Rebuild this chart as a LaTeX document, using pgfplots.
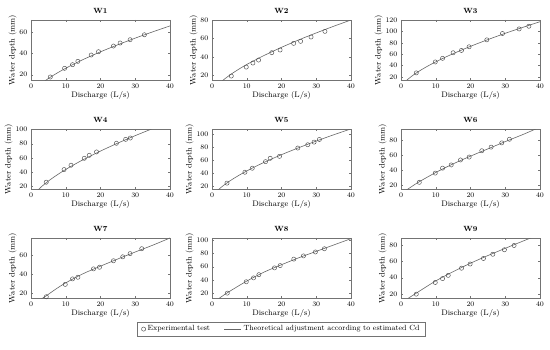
\documentclass[border=0pt]{standalone}
\usepackage{pgfplots}
\pgfplotsset{compat=1.18}
\pgfplotsset{
  panel/.style={
    scale only axis, width=139pt, height=60pt, anchor=south west,
    xmin=0, xmax=40, xtick={0,10,20,30,40},
    xlabel={Discharge (L/s)}, ylabel={Water depth (mm)},
    tick label style={font=\fontsize{7.5}{8}\selectfont},
    label style={font=\fontsize{8}{9}\selectfont},
    title style={font=\bfseries\fontsize{7.5}{8}\selectfont, yshift=-3pt},
    xlabel style={yshift=3pt},
    ylabel style={yshift=-4pt},
    axis line style={black!55},
    tick style={black!55},
    tick align=inside, major tick length=2pt,
    clip=true,
  },
  dat/.style={only marks, mark=o, mark size=2.1pt, mark options={black!70, line width=0.45pt}},
  fit/.style={no marks, smooth, black!60, line width=0.6pt},
}
\begin{document}
\begin{tikzpicture}
\useasboundingbox (0pt,0pt) rectangle (550pt,349pt);
% W1
\begin{axis}[panel, at={(31pt,269pt)}, title={W1}, ymin=15, ymax=71, ytick={20,40,60}]
\addplot[dat] coordinates {(5.55,17.8)(9.67,25.9)(11.96,29.3)(13.49,32.4)(17.32,38.3)(19.43,41.4)(23.73,46.7)(25.65,49.5)(28.52,52.6)(32.63,57.2)};
\addplot[fit] coordinates {(4,14.1)(5,16.4)(6,18.5)(8,22.4)(10,26.0)(12,29.3)(15,34.1)(20,41.3)(25,47.9)(30,54.1)(35,59.9)(40,65.5)};
\end{axis}
% W2
\begin{axis}[panel, at={(212pt,269pt)}, title={W2}, ymin=15, ymax=80, ytick={20,40,60,80}]
\addplot[dat] coordinates {(5.55,19.3)(9.86,29.0)(11.77,33.4)(13.4,36.6)(17.2,44.6)(19.6,47.5)(23.5,54.7)(25.5,56.9)(28.5,61.6)(32.5,67.7)};
\addplot[fit] coordinates {(3,14.2)(4,17.2)(5,20.0)(6,22.6)(8,27.4)(10,31.8)(12,35.8)(15,41.6)(20,50.4)(25,58.5)(30,66.0)(35,73.2)(40,80.0)};
\end{axis}
% W3
\begin{axis}[panel, at={(401pt,269pt)}, title={W3}, ymin=14.5, ymax=120, ytick={20,40,60,80,100,120}]
\addplot[dat] coordinates {(4.4,27.0)(9.86,46.2)(11.96,52.6)(15.0,62.4)(17.4,66.5)(19.6,72.9)(24.7,85.1)(29.2,96.2)(34.0,104.3)(36.8,109.0)};
\addplot[fit] coordinates {(1.5,13.1)(2,15.9)(3,20.8)(4,25.2)(5,29.2)(6,33.0)(8,40.0)(10,46.4)(12,52.4)(15,60.8)(20,73.7)(25,85.5)(30,96.6)(35,107.0)(40,117.0)};
\end{axis}
% W4
\begin{axis}[panel, at={(31pt,160pt)}, title={W4}, ymin=16.5, ymax=100.5, ytick={20,40,60,80,100}]
\addplot[dat] coordinates {(4.38,26.0)(9.52,43.7)(11.52,49.8)(15.33,59.5)(16.76,63.7)(18.86,68.4)(24.57,80.5)(27.24,86.0)(28.57,87.9)};
\addplot[fit] coordinates {(2,15.0)(3,19.7)(4,23.8)(5,27.6)(6,31.2)(8,37.8)(10,43.9)(12,49.5)(15,57.5)(20,69.6)(25,80.8)(30,91.2)(35,101.1)(36,103)};
\end{axis}
% W5
\begin{axis}[panel, at={(212pt,160pt)}, title={W5}, ymin=15, ymax=108, ytick={20,40,60,80,100}]
\addplot[dat] coordinates {(4.31,24.1)(9.47,41.0)(11.58,47.2)(15.41,57.4)(16.75,62.6)(19.43,65.6)(24.69,78.5)(27.56,83.6)(29.38,87.7)(30.91,91.8)};
\addplot[fit] coordinates {(1.5,12.1)(2,14.7)(3,19.2)(4,23.3)(5,27.0)(6,30.5)(8,37.0)(10,42.9)(12,48.5)(15,56.3)(20,68.2)(25,79.1)(30,89.3)(35,99.0)(40,108.2)};
\end{axis}
% W6
\begin{axis}[panel, at={(401pt,160pt)}, title={W6}, ymin=15, ymax=95, ytick={20,40,60,80}]
\addplot[dat] coordinates {(5.26,23.9)(9.86,36.2)(11.96,42.8)(14.45,47.1)(17.13,53.7)(19.62,57.6)(23.25,66.0)(25.93,70.8)(29.0,76.5)(31.2,81.3)};
\addplot[fit] coordinates {(1.5,13.5)(3,18)(5,24)(10,37)(15,48.5)(20,58.8)(25,68.5)(30,78.2)(35,87.5)(39,95.5)};
\end{axis}
% W7
\begin{axis}[panel, at={(31pt,51pt)}, title={W7}, ymin=15.3, ymax=77.5, ytick={20,40,60}]
\addplot[dat] coordinates {(4.40,16.6)(9.86,29.4)(11.96,35.1)(13.49,36.8)(17.99,45.5)(19.71,47.2)(23.73,53.9)(26.41,58.0)(28.52,61.3)(31.87,66.4)};
\addplot[fit] coordinates {(3,14.4)(4.4,17.6)(7,24.2)(10,31)(15,40.5)(20,48.3)(25,55.8)(30,63)(35,70)(40,77.5)};
\end{axis}
% W8
\begin{axis}[panel, at={(212pt,51pt)}, title={W8}, ymin=13.2, ymax=103, ytick={20,40,60,80,100},
  legend columns=2,
  legend style={at={(0.5,-0.40)}, anchor=north, draw=black!55, font=\fontsize{7.5}{8}\selectfont,
    /tikz/every even column/.append style={column sep=12pt}, inner xsep=4pt, inner ysep=1.5pt},
  legend cell align=left]
\addplot[dat] coordinates {(4.4,20.5)(9.86,37.5)(11.96,43.3)(13.49,48.1)(17.99,58.3)(19.62,61.7)(23.54,71.4)(26.32,76.2)(29.76,82.1)(32.34,86.9)};
\addlegendentry{Experimental test}
\addplot[fit] coordinates {(2,12.5)(4.4,21)(10,38.5)(15,52)(20,63)(25,73.5)(30,83)(35,92.5)(40,102)};
\addlegendentry{Theoretical adjustment according to estimated Cd}
\end{axis}
% W9
\begin{axis}[panel, at={(401pt,51pt)}, title={W9}, ymin=14.8, ymax=89.3, ytick={20,40,60,80}]
\addplot[dat] coordinates {(4.4,19.6)(9.86,34.1)(11.96,38.9)(13.59,42.9)(17.42,51.8)(19.9,57.0)(23.73,63.9)(26.41,69.1)(29.76,74.7)(32.54,80.0)};
\addplot[fit] coordinates {(2,14.2)(5,22.5)(10,36)(15,47.5)(20,58)(25,67.5)(30,76.5)(35,85.3)(38,90.5)};
\end{axis}
\end{tikzpicture}
\end{document}
